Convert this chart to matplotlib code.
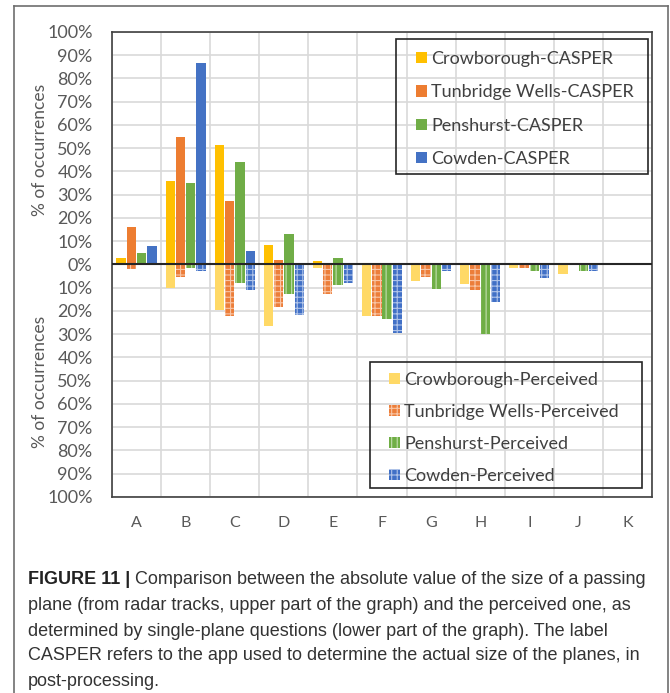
import matplotlib.pyplot as plt
import numpy as np
from matplotlib.lines import Line2D
from matplotlib.patches import Patch, Rectangle

categories = ['A', 'B', 'C', 'D', 'E', 'F', 'G', 'H', 'I', 'J', 'K']

# actual size (CASPER), % of occurrences, upper half
crow_casper = [3, 36, 51.5, 8.5, 1.4, 0, 0, 0, 0, 0, 0]
tun_casper = [16, 55, 27.5, 2, 0, 0, 0, 0, 0, 0, 0]
pen_casper = [5, 35, 44, 13, 2.6, 0, 0, 0, 0, 0, 0]
cow_casper = [8, 86.5, 5.6, 0, 0, 0, 0, 0, 0, 0, 0]

# perceived size, % of occurrences, lower half
crow_perc = [0, 10, 19.5, 26.5, 1.7, 22, 7, 8.4, 1.7, 4.3, 0]
tun_perc = [2, 5.5, 22, 18.4, 12.7, 22, 5.5, 11, 1.7, 0, 0]
pen_perc = [0, 1.3, 8, 12.8, 9, 23.4, 10.5, 30, 2.9, 2.9, 0]
cow_perc = [0, 2.9, 10.8, 21.8, 8, 29.6, 2.9, 16.3, 5.6, 2.9, 0]

casper_names = ['Crowborough-CASPER', 'Tunbridge Wells-CASPER', 'Penshurst-CASPER', 'Cowden-CASPER']
perc_names = ['Crowborough-Perceived', 'Tunbridge Wells-Perceived', 'Penshurst-Perceived', 'Cowden-Perceived']

cols = ['#FFC000', '#ED7D31', '#70AD47', '#4472C4']
perc_cols = ['#FFD966', '#EC7E3A', '#6FAE45', '#4170C6']
perc_hatchcol = ['#FFD966', '#F8C5A5', '#C2DEAE', '#AFC3E8']
hatches = [None, '+++', '|||', '+++']

plt.rcParams['font.family'] = ['Lato', 'DejaVu Sans']
plt.rcParams['hatch.linewidth'] = 0.8
gray = '#595959'

fig = plt.figure(figsize=(6.7, 6.93), dpi=100)
ax = fig.add_axes([112/670, 1-497/693, 540/670, 465/693])

x = np.arange(len(categories))
w = 0.19
step = 0.21
up = [crow_casper, tun_casper, pen_casper, cow_casper]
down = [crow_perc, tun_perc, pen_perc, cow_perc]
for i in range(4):
    off = (i - 1.5) * step
    ax.bar(x + off, up[i], w, color=cols[i], linewidth=0, zorder=3)
    ax.bar(x + off, -np.array(down[i]), w, color=perc_cols[i], hatch=hatches[i],
           edgecolor=perc_hatchcol[i], linewidth=0, zorder=3)

ax.set_xlim(-0.5, len(categories) - 0.5)
ax.set_ylim(-100, 100)
yt = np.arange(-100, 101, 10)
ax.set_yticks(yt)
ax.set_yticklabels(['%d%%' % abs(v) for v in yt], fontsize=13, color=gray)
ax.set_xticks(x)
ax.set_xticklabels(categories, fontsize=11.5, color=gray)
ax.set_xticks(np.arange(-0.5, len(categories)), minor=True)
ax.tick_params(length=0, which='both')
ax.tick_params(axis='x', pad=14)
ax.tick_params(axis='y', pad=14)
ax.grid(True, which='minor', axis='x', color='#d9d9d9', linewidth=1.2, zorder=0)
ax.grid(True, which='major', axis='y', color='#d9d9d9', linewidth=1.2, zorder=0)
ax.axhline(0, color='#262626', linewidth=1.5, zorder=4)
for s in ax.spines.values():
    s.set_color('#404040')
    s.set_linewidth(1.2)

fig.text(40/670, 1-150/693, '% of occurrences', rotation=90, ha='center', va='center',
         fontsize=12.5, color=gray)
fig.text(40/670, 1-382/693, '% of occurrences', rotation=90, ha='center', va='center',
         fontsize=12.5, color=gray)

h1 = [Patch(facecolor=c, linewidth=0) for c in cols]
h2 = [Patch(facecolor=perc_cols[i], hatch=hatches[i], edgecolor=perc_hatchcol[i], linewidth=0)
      for i in range(4)]
fig.legend(h1, casper_names, loc='upper left', bbox_to_anchor=(416/670, 1-51/693),
           borderaxespad=0, borderpad=0, frameon=False,
           fontsize=13, handlelength=0.6, handleheight=0.6, handletextpad=0.25,
           labelspacing=0.96, labelcolor='#404040')
fig.legend(h2, perc_names, loc='upper left', bbox_to_anchor=(389/670, 1-372/693),
           borderaxespad=0, borderpad=0, frameon=False,
           fontsize=13, handlelength=0.6, handleheight=0.6, handletextpad=0.25,
           labelspacing=0.88, labelcolor='#404040')
for (x0, y0, x1, y1) in [(396, 39, 648, 174), (370, 362, 642, 488)]:
    fig.add_artist(Rectangle((x0/670, 1-y1/693), (x1-x0)/670, (y1-y0)/693,
                             transform=fig.transFigure, facecolor='none',
                             edgecolor='#262626', linewidth=1.2, zorder=5))

# outer frame
fr = '#6e6e6e'
fig.add_artist(Line2D([14/670, 14/670], [0, 1-6/693], color=fr, lw=1.2))
fig.add_artist(Line2D([668/670, 668/670], [0, 1-6/693], color=fr, lw=1.2))
fig.add_artist(Line2D([14/670, 668/670], [1-6/693, 1-6/693], color=fr, lw=1.2))

# caption
cap_font = ['Liberation Sans', 'DejaVu Sans']
cap_lines = ['Comparison between the absolute value of the size of a passing',
             'plane (from radar tracks, upper part of the graph) and the perceived one, as',
             'determined by single-plane questions (lower part of the graph). The label',
             'CASPER refers to the app used to determine the actual size of the planes, in',
             'post-processing.']
cap_y = [580, 606, 631, 656, 681]
fs = 13
t = fig.text(28/670, 1-cap_y[0]/693, 'FIGURE 11 | ', fontsize=fs, fontweight='bold',
             family=cap_font, color='#222222', va='center')
fig.canvas.draw()
bb = t.get_window_extent(fig.canvas.get_renderer())
xs = bb.x1 / fig.bbox.width
fig.text(xs, 1-cap_y[0]/693, cap_lines[0], fontsize=fs, family=cap_font, color='#333333', va='center')
for yy, line in zip(cap_y[1:], cap_lines[1:]):
    fig.text(28/670, 1-yy/693, line, fontsize=fs, family=cap_font, color='#333333', va='center')

fig.savefig('out.png', dpi=100)
